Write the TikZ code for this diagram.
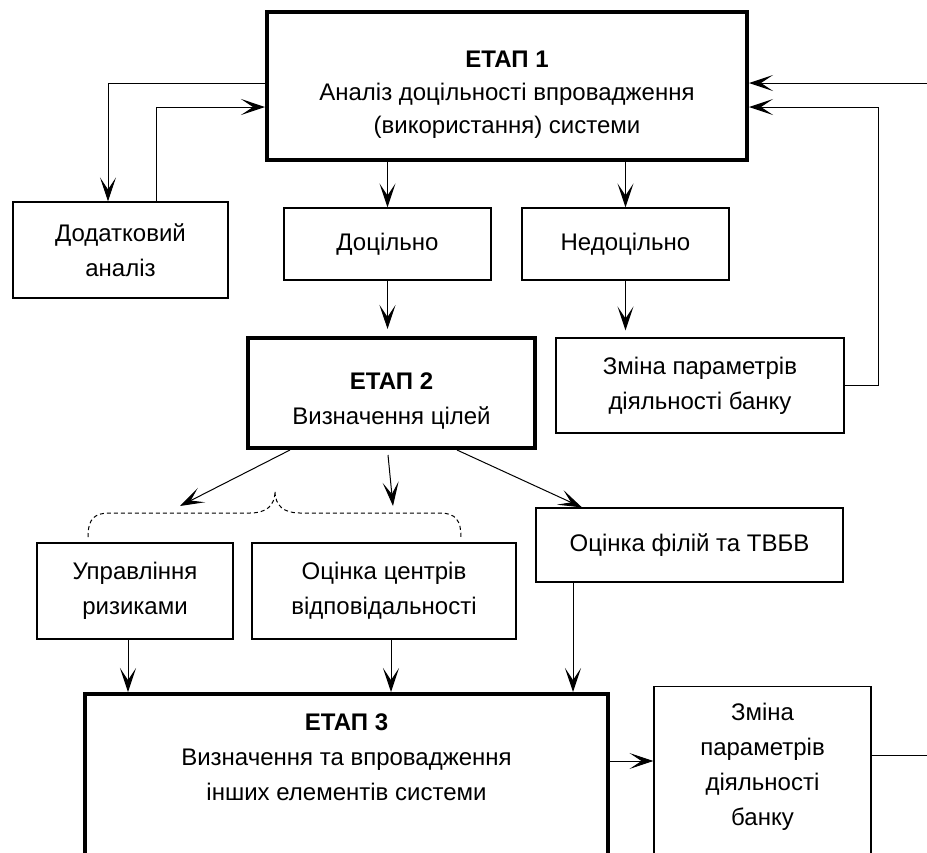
\documentclass[tikz,border=0pt]{standalone}
\usepackage{fontspec}
\setmainfont{Liberation Sans}
\usetikzlibrary{arrows.meta}

\begin{document}
\begin{tikzpicture}[x=1pt, y=-1pt]
	\tikzset{txt/.style={align=center, font=\fontsize{24}{35}\selectfont}}
	\tikzset{box/.style={txt, draw=black, fill=white, line width=1.2pt, inner sep=0pt}}
	\tikzset{stage/.style={box, line width=4pt}}
	\tikzset{arr/.style={-{Stealth[length=24pt, width=16pt, inset=12pt]}, line width=1pt}}
		\useasboundingbox (0,0) rectangle (927,852);
		\clip (0,0) rectangle (927,852);
		\node[stage, minimum width=480pt, minimum height=148pt, font=\fontsize{24}{33}\selectfont] (stageA) at (507,86) {\rule{0pt}{34pt}\textbf{ЕТАП 1}\\Аналіз доцільності впровадження\\(використання) системи};
		\node[stage, minimum width=287pt, minimum height=110pt] (stageB) at (391.5,393) {\rule{0pt}{33pt}\textbf{ЕТАП 2}\\Визначення цілей};
		\node[stage, minimum width=523pt, minimum height=220pt, anchor=north] (stageC) at (346.5,692) {};
		\node[box, minimum width=217pt, minimum height=220pt, anchor=north] (changeB) at (762.5,686) {};
		\foreach \name/\x/\y/\w/\h/\tag in {extra/120.5/250/215/96/{Додатковий\\аналіз},
			yes/387.5/244/207/72/Доцільно, no/625.5/244/207/72/Недоцільно,
			changeA/700/385.5/288/95/{Зміна параметрів\\діяльності банку},
			risk/135/591/196/96/{Управління\\ризиками}, resp/384/591/264/96/{Оцінка центрів\\відповідальності},
			branch/689.5/545/307/74/{Оцінка філій та ТВБВ}}
		{\node[box, minimum width=\w pt, minimum height=\h pt] (\name) at (\x,\y) {\tag};}
		\node[txt] (stageCtext) at (346.5,757) {\textbf{ЕТАП 3}\\Визначення та впровадження\\інших елементів системи};
		\node[txt] (changeBtext) at (762.5,767) {Зміна\\параметрів\\діяльності\\банку};
		% free ends and columns
		\foreach \name/\x/\y in {lA/108/83, lB/156/107, inR/927/83, loopR/878/107, outR/927/755, midC/0/761,
			sL/290/0, sR/457/0, bR/582/0, tailM/388/455, tipM/393/506, tipL/180/506, c1/128/0, c2/391/0, c3/573/0}
		{\coordinate (\name) at (\x,\y);}
		\draw[arr] (stageA.west |- lA) -| (extra.north -| lA);
		\draw[arr] (extra.north -| lB) |- (stageA.west |- lB);
		\draw[arr] (inR) -- (stageA.east |- inR);
		\draw[arr] (changeA.east) -| (loopR) -- (stageA.east |- loopR);
		\draw[arr] (stageA.south -| yes.north) -- (yes.north);
		\draw[arr] (stageA.south -| no.north) -- (no.north);
		\draw[arr, shorten >=7pt] (yes.south) -- (stageB.north -| yes.south);
		\draw[arr, shorten >=7pt] (no.south) -- (changeA.north -| no.south);
		\draw[arr] (stageB.south -| sL) -- (tipL);
		\draw[arr] (tailM) -- (tipM);
		\draw[arr] (stageB.south -| sR) -- (branch.north -| bR);
		\draw[arr] (risk.south -| c1) -- (stageC.north -| c1);
		\draw[arr] (resp.south -| c2) -- (stageC.north -| c2);
		\draw[arr] (branch.south -| c3) -- (stageC.north -| c3);
		\draw[arr] (stageC.east |- midC) -- (changeB.west |- midC);
		\draw[line width=1pt] (changeB.east |- outR) -- (outR);
		% brace
		\draw[line width=1pt, dash pattern=on 4pt off 3pt] (88,537) .. controls (88,518) and (95,513) .. (110,513) -- (250,513)
			.. controls (266,513) and (275,506) .. (275,491) .. controls (275,506) and (284,513) .. (300,513) -- (440,513)
			.. controls (456,513) and (461,521) .. (461,537);
	\end{tikzpicture}
\end{document}
